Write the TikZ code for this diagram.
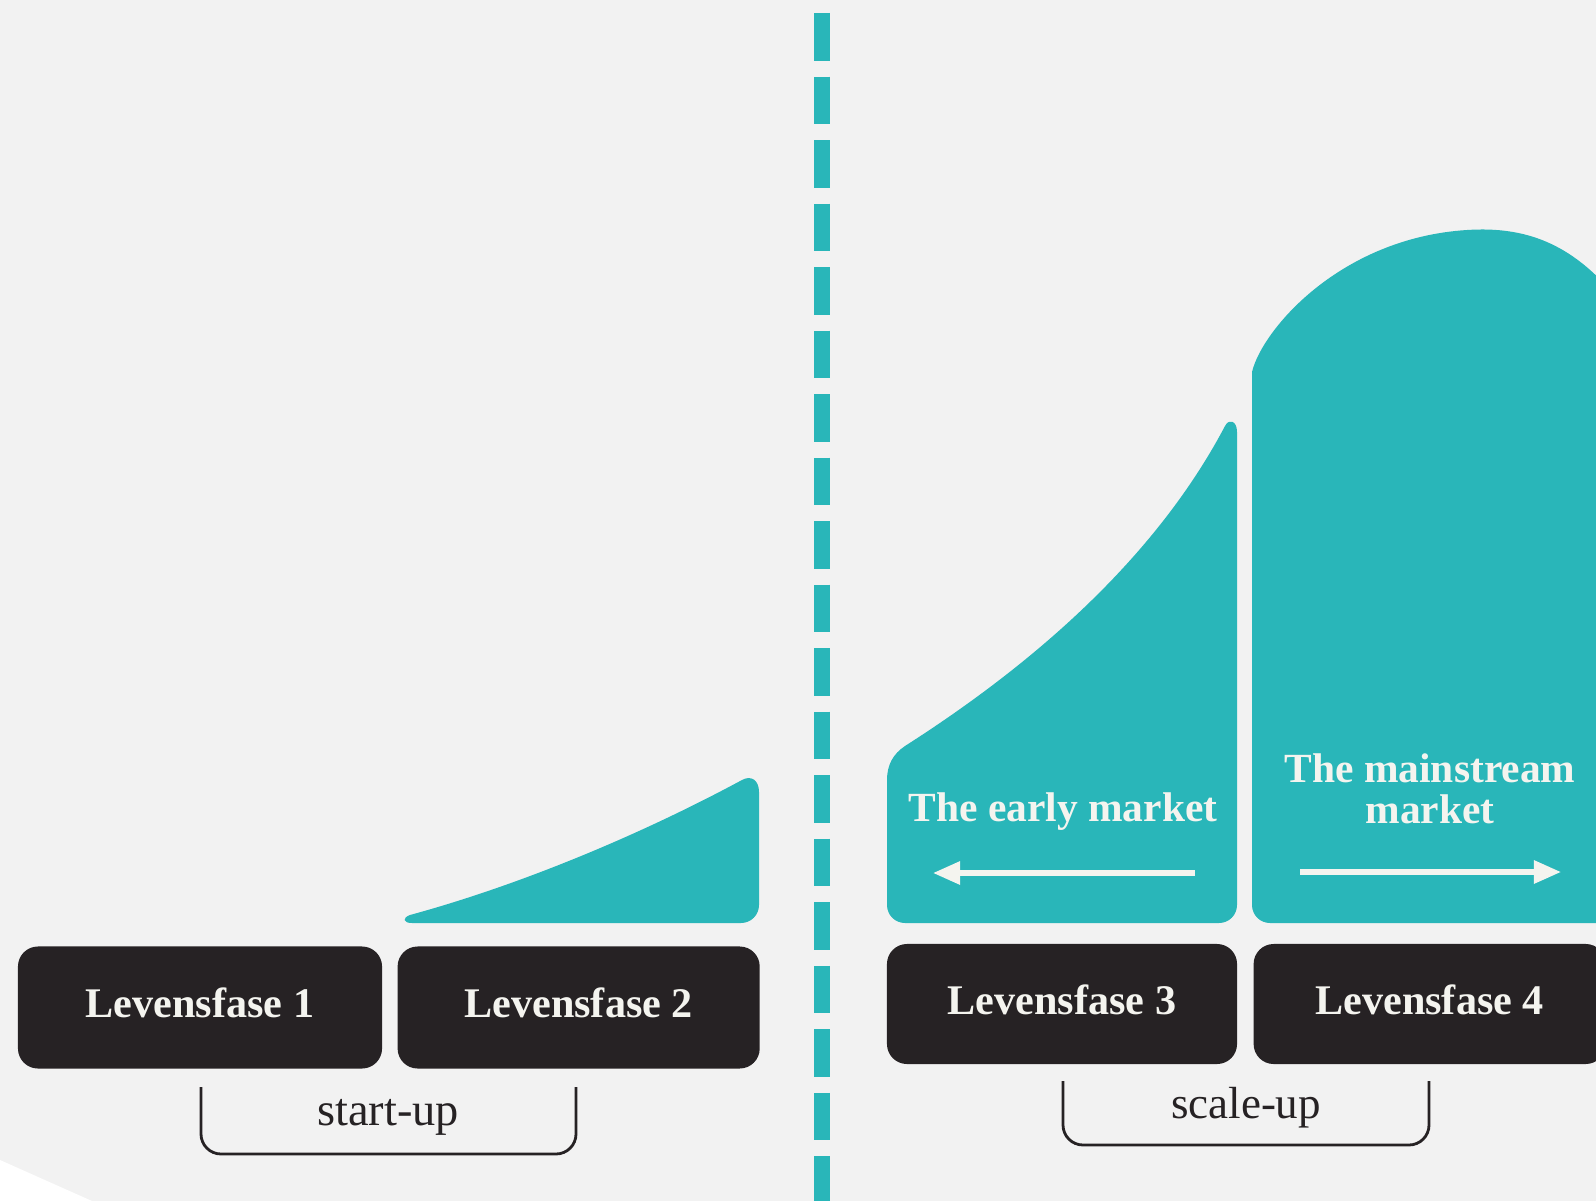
\documentclass[tikz,border=0pt]{standalone}
\usepackage{fontspec}
\setmainfont{Liberation Serif}
\usepackage{xcolor}
\usetikzlibrary{arrows.meta,positioning}

\definecolor{tealfill}{HTML}{29B6B9}
\definecolor{darkbox}{HTML}{262224}
\definecolor{paper}{HTML}{F2F2F2}
\definecolor{lighttext}{HTML}{F4F4EF}

\tikzset{
  fase/.style={fill=darkbox, rounded corners=0.5cm, minimum height=3.05cm, inner sep=0pt, text height=0.52cm, text depth=0cm, text=lighttext, font=\fontsize{30}{30}\selectfont\bfseries},
  marktext/.style={text=lighttext, font=\fontsize{29.5}{29}\selectfont\bfseries, align=center, inner sep=0pt},
  markarrow/.style={draw=lighttext, line width=0.13cm, -{Triangle[length=0.68cm,width=0.56cm]}},
  bracket/.style={draw=darkbox, line width=0.07cm, rounded corners=0.5cm},
  phasetext/.style={text=darkbox, font=\fontsize{32}{32}\selectfont, inner sep=0pt},
  divider/.style={draw=tealfill, line width=0.4cm, dash pattern=on 1.19cm off 0.3975cm}
}

\begin{document}
\begin{tikzpicture}[x=0.025cm, y=-0.025cm]
\useasboundingbox (0,0) rectangle (1596,1201);
\fill[paper] (0,0) rectangle (1596,1201);
\fill[white] (0,1160) -- (92,1201) -- (0,1201) -- cycle;

% divider between start-up and scale-up
\coordinate (d0) at (822,13);
\coordinate (d1) at (822,1215);
\draw[divider] (d0) -- (d1);

% curves
\fill[tealfill] (412,923) -- (741,923) .. controls (751,923) and (759,915) .. (759,905) -- (759,792) .. controls (759,780) and (751,775) .. (742,780) .. controls (640,835) and (520,885) .. (410,915) .. controls (402,918) and (403,923) .. (412,923) -- cycle;
\fill[tealfill] (905,923) -- (1219,923) .. controls (1229,923) and (1237,915) .. (1237,905) -- (1237,432) .. controls (1237,421) and (1229,418) .. (1225,426) .. controls (1156,557) and (1035,663) .. (905,746) .. controls (893,754) and (887,765) .. (887,780) -- (887,905) .. controls (887,915) and (895,923) .. (905,923) -- cycle;
\fill[tealfill] (1270,923) -- (1610,923) -- (1610,290) .. controls (1570,245) and (1527,226) .. (1467,230) .. controls (1340,238) and (1262,330) .. (1252,372) -- (1252,905) .. controls (1252,915) and (1260,923) .. (1270,923) -- cycle;

\node[fase, minimum width=9.1cm] (l1) at (200,1007.5) {Levensfase 1};
\node[fase, minimum width=9.05cm, right=0.375cm of l1] (l2) {Levensfase 2};
\node[fase, minimum width=8.75cm, minimum height=3cm] (l3) at (1062,1004) {Levensfase 3};
\node[fase, minimum width=8.8cm, minimum height=3cm, right=0.4cm of l3] (l4) {Levensfase 4};

\node[marktext, anchor=base] (em) at (1063,821) {The early market};
\node[marktext] (mm) at (1430,789) {The mainstream\\market};

\coordinate (ea0) at (1195,873);
\coordinate (ea1) at (933,873);
\coordinate (ma0) at (1300,872);
\coordinate (ma1) at (1561,872);
\draw[markarrow] (ea0) -- (ea1);
\draw[markarrow] (ma0) -- (ma1);

\draw[bracket] (201,1087) -- (201,1154) -- (576,1154) -- (576,1087);
\draw[bracket] (1063,1081) -- (1063,1145) -- (1429,1145) -- (1429,1081);
\node[phasetext, anchor=base, font=\fontsize{33}{33}\selectfont] (su) at (388,1125) {start-up};
\node[phasetext, anchor=base] (cu) at (1246,1118) {scale-up};
\end{tikzpicture}
\end{document}
